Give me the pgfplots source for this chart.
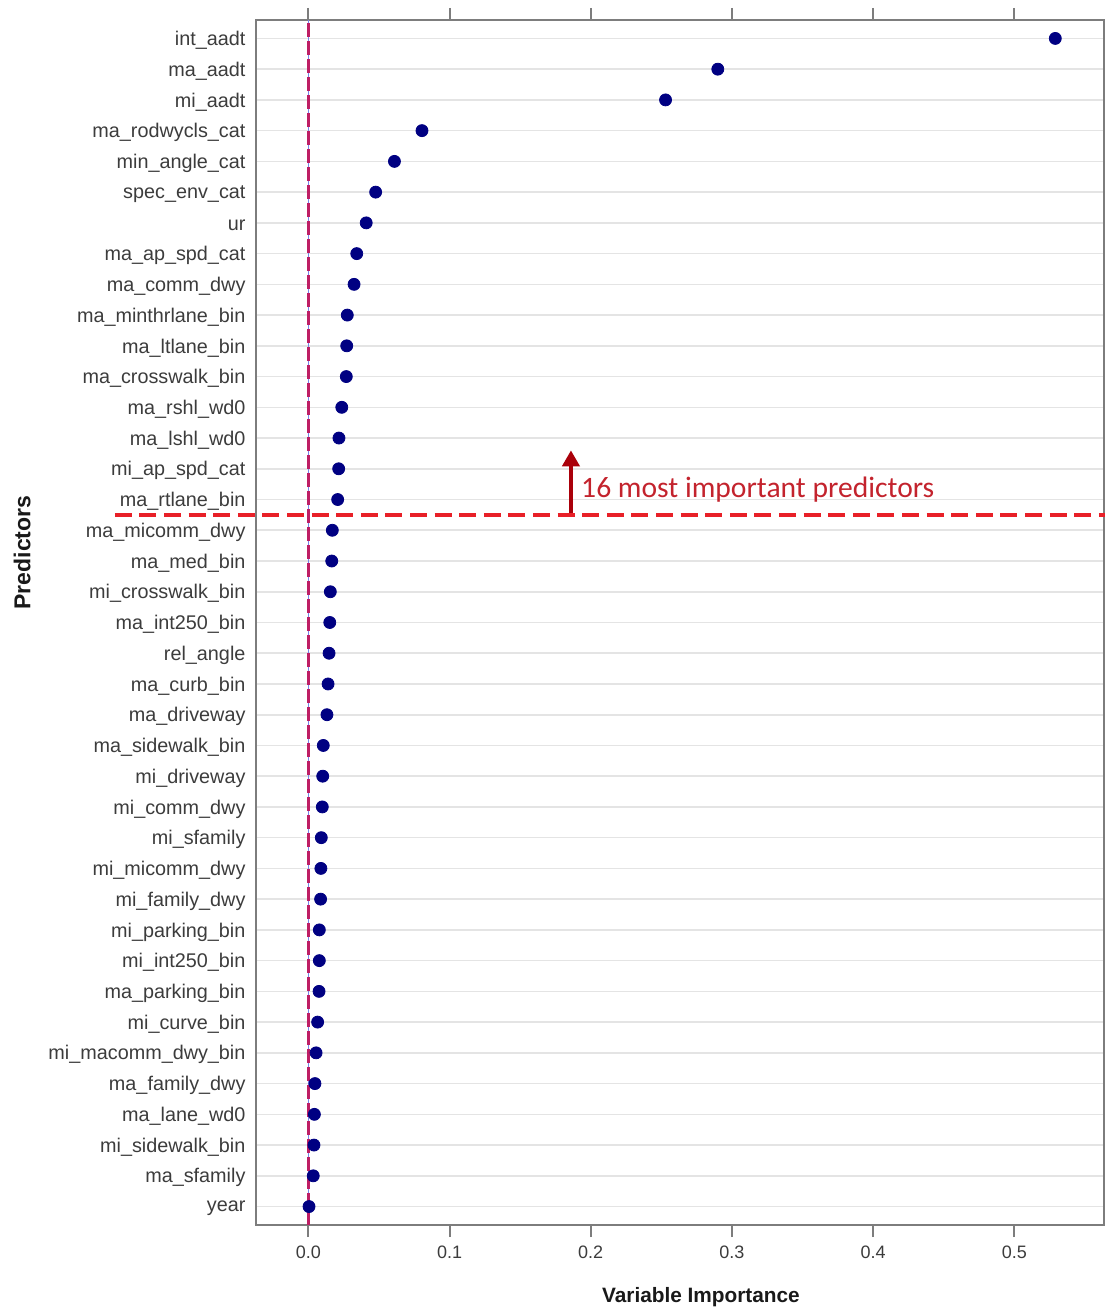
\documentclass[border=0pt]{standalone}
\usepackage{pgfplots}
\pgfplotsset{compat=1.18}
\usetikzlibrary{arrows.meta}
\usepackage{fontspec}
\setmainfont{Liberation Sans}
\newfontfamily\calibrilike{Carlito}

\definecolor{dotblue}{RGB}{0,0,130}
\definecolor{axisgray}{RGB}{125,125,125}
\definecolor{labelgray}{RGB}{60,60,60}
\definecolor{gridgray}{RGB}{228,228,228}
\definecolor{cutred}{RGB}{232,32,40}
\definecolor{arrowred}{RGB}{170,0,10}
\definecolor{notered}{RGB}{195,35,45}
\definecolor{zeroblue}{RGB}{120,130,235}
\definecolor{zeromag}{RGB}{190,30,100}

\begin{document}
\begin{tikzpicture}
\useasboundingbox (0,0) rectangle (552.5pt,655pt);
\begin{axis}[
  at={(127.75pt,42.5pt)}, anchor=south west,
  scale only axis, width=424.25pt, height=602.5pt,
  xmin=-0.0374, xmax=0.5635, ymin=0.4, ymax=39.6,
  axis line style={axisgray, line width=1pt},
  /pgf/number format/assume math mode=true,
  xtick={0,0.1,0.2,0.3,0.4,0.5},
  xtick pos=both, xticklabel pos=lower,
  tick align=outside,
  major tick length=6pt,
  x tick style={axisgray, line width=1pt},
  xticklabel style={font=\fontsize{9}{10}\selectfont, text=labelgray, yshift=-1pt,
    /pgf/number format/fixed, /pgf/number format/fixed zerofill,
    /pgf/number format/precision=1},
  ytick={1,...,39},
  yticklabels={year, ma\_sfamily, mi\_sidewalk\_bin, ma\_lane\_wd0, ma\_family\_dwy,
    mi\_macomm\_dwy\_bin, mi\_curve\_bin, ma\_parking\_bin, mi\_int250\_bin,
    mi\_parking\_bin, mi\_family\_dwy, mi\_micomm\_dwy, mi\_sfamily, mi\_comm\_dwy,
    mi\_driveway, ma\_sidewalk\_bin, ma\_driveway, ma\_curb\_bin, rel\_angle,
    ma\_int250\_bin, mi\_crosswalk\_bin, ma\_med\_bin, ma\_micomm\_dwy,
    ma\_rtlane\_bin, mi\_ap\_spd\_cat, ma\_lshl\_wd0, ma\_rshl\_wd0,
    ma\_crosswalk\_bin, ma\_ltlane\_bin, ma\_minthrlane\_bin, ma\_comm\_dwy,
    ma\_ap\_spd\_cat, ur, spec\_env\_cat, min\_angle\_cat, ma\_rodwycls\_cat,
    mi\_aadt, ma\_aadt, int\_aadt},
  y tick style={draw=none},
  yticklabel style={font=\fontsize{9.9}{11}\selectfont, text=labelgray, xshift=4.5pt, yshift=-1pt},
  ymajorgrids, y grid style={gridgray, line width=0.8pt},
  clip=false,
  xlabel={Variable Importance},
  xlabel style={at={(axis description cs:0.525,0)}, anchor=center, yshift=-36pt,
    font=\bfseries\fontsize{10.4}{12}\selectfont, text=black!90},
  ylabel={Predictors},
  ylabel style={at={(axis description cs:-0.275,0.558)}, anchor=center,
    font=\bfseries\fontsize{11.5}{13}\selectfont, text=black!90},
]
% reference line at zero importance
\draw[zeroblue, line width=0.8pt] (axis cs:0,0.4) -- (axis cs:0,39.6);
\draw[zeromag, line width=1.2pt, dash pattern=on 7pt off 2pt] (axis cs:0,0.4) -- (axis cs:0,39.6);

\addplot[only marks, mark=*, mark size=3pt, color=dotblue] coordinates {
  (0.529,39) (0.290,38) (0.253,37) (0.0805,36) (0.061,35) (0.0477,34)
  (0.041,33) (0.0343,32) (0.0324,31) (0.0276,30) (0.0272,29) (0.0269,28)
  (0.0237,27) (0.0217,26) (0.0215,25) (0.0208,24) (0.0170,23) (0.0166,22)
  (0.0156,21) (0.0152,20) (0.0147,19) (0.0140,18) (0.0132,17) (0.0106,16)
  (0.0102,15) (0.0099,14) (0.0092,13) (0.0089,12) (0.0087,11) (0.0078,10)
  (0.0078,9) (0.0076,8) (0.0066,7) (0.0055,6) (0.0047,5) (0.0043,4)
  (0.0040,3) (0.0035,2) (0.0005,1)
};

% cut-off between the top 16 predictors and the rest
\draw[cutred, line width=2pt, dash pattern=on 8.5pt off 3.8pt]
  (axis cs:-0.137,23.51) -- (axis cs:0.5643,23.51);
\draw[arrowred, line width=2pt, -{Triangle[width=8.5pt,length=8pt]}]
  (axis cs:0.186,23.55) -- (axis cs:0.186,25.6);
\node[anchor=base west, inner sep=0pt, text=notered,
  font=\calibrilike\fontsize{14.8}{16}\selectfont]
  at (axis cs:0.193,24.07) {16 most important predictors};
\end{axis}
\end{tikzpicture}
\end{document}
